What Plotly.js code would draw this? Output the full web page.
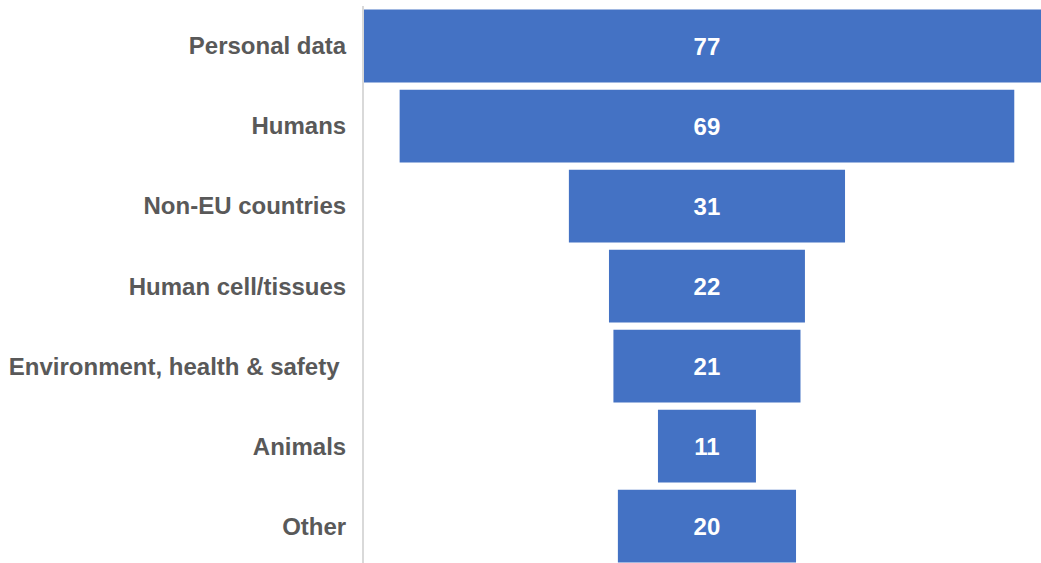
<!DOCTYPE html>
<html>
<head>
<meta charset="utf-8">
<script src="https://cdn.plot.ly/plotly-3.0.1.min.js"></script>
<style>html,body{margin:0;padding:0;background:#fff;}#chart{width:1041px;height:563px;}</style>
</head>
<body>
<div id="chart"></div>
<script>
const categories = ["Personal data", "Humans", "Non-EU countries", "Human cell/tissues", "Environment, health & safety ", "Animals", "Other"];
const counts = [77, 69, 31, 22, 21, 11, 20];

const trace = {
  type: 'funnel',
  y: categories,
  x: counts,
  orientation: 'h',
  marker: {color: '#4472C4', line: {width: 0}},
  connector: {visible: false},
  textinfo: 'value',
  textposition: 'inside',
  insidetextanchor: 'middle',
  textfont: {family: 'Liberation Sans, Arial, sans-serif', size: 24, color: '#ffffff', weight: 'bold'},
  cliponaxis: true,
  hoverinfo: 'x+y'
};

const layout = {
  width: 1041,
  height: 563,
  margin: {l: 364, r: 0, t: 6, b: 0, pad: 0},
  paper_bgcolor: '#ffffff',
  plot_bgcolor: '#ffffff',
  showlegend: false,
  funnelgap: 0.09,
  font: {family: 'Liberation Sans, Arial, sans-serif'},
  xaxis: {range: [-38.5, 37.5], visible: false, showgrid: false, zeroline: false},
  yaxis: {
    type: 'category',
    range: [6.46, -0.5],
    autorange: false,
    showline: true,
    linecolor: '#d9d9d9',
    linewidth: 2,
    showgrid: false,
    zeroline: false,
    ticks: 'outside',
    ticklen: 11,
    tickcolor: 'rgba(0,0,0,0)',
    tickfont: {family: 'Liberation Sans, Arial, sans-serif', size: 24, color: '#595959', weight: 'bold'}
  }
};

Plotly.newPlot('chart', [trace], layout, {staticPlot: true, displayModeBar: false});
</script>
</body>
</html>
